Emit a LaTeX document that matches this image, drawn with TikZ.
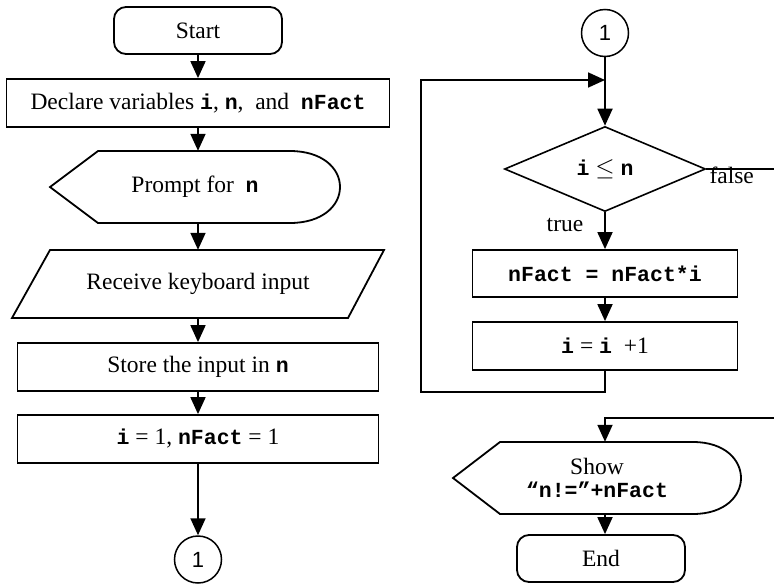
\documentclass[tikz,border=0pt]{standalone}
\usepackage{fontspec}
\setmainfont{Liberation Serif}
\setmonofont{Liberation Mono}
\newfontfamily\circfont{Liberation Sans}
\usetikzlibrary{shapes.geometric,arrows.meta,calc}
\newcommand{\cb}[1]{{\fontsize{21.5}{25}\selectfont\ttfamily\bfseries #1}}
\begin{document}
\begin{tikzpicture}[x=1pt,y=-1pt,
  every node/.style={font=\fontsize{23.5}{25}\selectfont},
  box/.style={draw,line width=1.8pt,rectangle,minimum height=48pt,inner sep=0pt},
  term/.style={draw,line width=1.8pt,rounded corners=12pt,minimum width=168pt,minimum height=47pt,inner sep=0pt},
  conn/.style={draw,circle,line width=1.5pt,minimum size=47pt,inner sep=0pt,font=\circfont\fontsize{22}{24}\selectfont},
  holder/.style={rectangle,inner sep=0pt,align=center},
  arr/.style={line width=1.8pt,-{Triangle[length=17pt,width=15pt]}},
  ln/.style={line width=1.8pt},
  outline/.style={line width=1.8pt,line join=miter},
  lbl/.style={inner sep=1pt}
]
\useasboundingbox (0,0) rectangle (774,584);

% ---------- left column ----------
\node[term] (start) at (198,30.5) {Start};
\node[box,minimum width=383pt] (decl) at (198,103) {Declare variables \cb{i}, \cb{n},\ \ and\ \ \cb{nFact}};
\node[holder,minimum width=290pt,minimum height=72pt] (prompt) at (198,187) {\hspace*{-6pt}Prompt for\ \ \cb{n}};
\draw[outline] (50,187) -- (98,151) -- (290,151) .. controls (322,151) and (340,168) .. (340,187)
  .. controls (340,206) and (322,223) .. (290,223) -- (98,223) -- cycle;
\node[holder,minimum width=300pt,minimum height=68pt] (recv) at (198,284) {Receive keyboard input};
\draw[outline] (50,250) -- (384,250) -- (348,318) -- (12,318) -- cycle;
\node[box,minimum width=361pt] (store) at (198,367) {Store the input in \cb{n}};
\node[box,minimum width=361pt] (init) at (198,439) {\cb{i} = 1, \cb{nFact} = 1};
\node[conn] (c1) at (198,559.5) {1};

\draw[arr] (start) -- (decl);
\draw[arr] (decl) -- (prompt);
\draw[arr] (prompt) -- (recv);
\draw[arr] (recv) -- (store);
\draw[arr] (store) -- (init);
\draw[arr] (init) -- (c1);

% ---------- right column ----------
\node[conn] (c2) at (605,33) {1};
\coordinate (merge) at (605,80);
\node[draw,diamond,line width=1.6pt,minimum width=201pt,minimum height=85pt,inner sep=0pt] (dec) at (605,169) {\cb{i} $\leq$ \cb{n}};
\node[box,minimum width=265pt,minimum height=47pt] (nf) at (605,273.5) {\cb{nFact = nFact*i}};
\node[box,minimum width=265pt] (inc) at (605,346) {\cb{i} = \cb{i}\ \ +1};
\coordinate (loopA) at (421,392);
\node[holder,minimum width=200pt,minimum height=72pt] (show) at (597,478) {Show\\[-2pt]\cb{“n!=”+nFact}};
\draw[outline] (453,478) -- (500,442) -- (693,442) .. controls (725,442) and (741,460) .. (741,478)
  .. controls (741,496) and (725,514) .. (693,514) -- (500,514) -- cycle;
\node[term] (end) at (601,558.5) {End};

\coordinate (exitF) at (774,169);
\coordinate (entryS) at (774,418);

\draw[arr] (c2) -- (dec);
\draw[arr] (inc.south) |- (loopA) |- (merge);
\draw[arr] (dec) -- (nf);
\draw[arr] (nf) -- (inc);
\draw[ln] (dec.east) -- (exitF);
\node[lbl,anchor=north west] (flbl) at ($(dec.east)+(2,-3)$) {false};
\node[lbl] (tlbl) at ($(dec.south)+(-40,13)$) {true};
\draw[arr] (entryS) -| (show.north -| dec.south);
\draw[arr] (show.south -| dec.south) -- (end.north -| dec.south);
\end{tikzpicture}
\end{document}
